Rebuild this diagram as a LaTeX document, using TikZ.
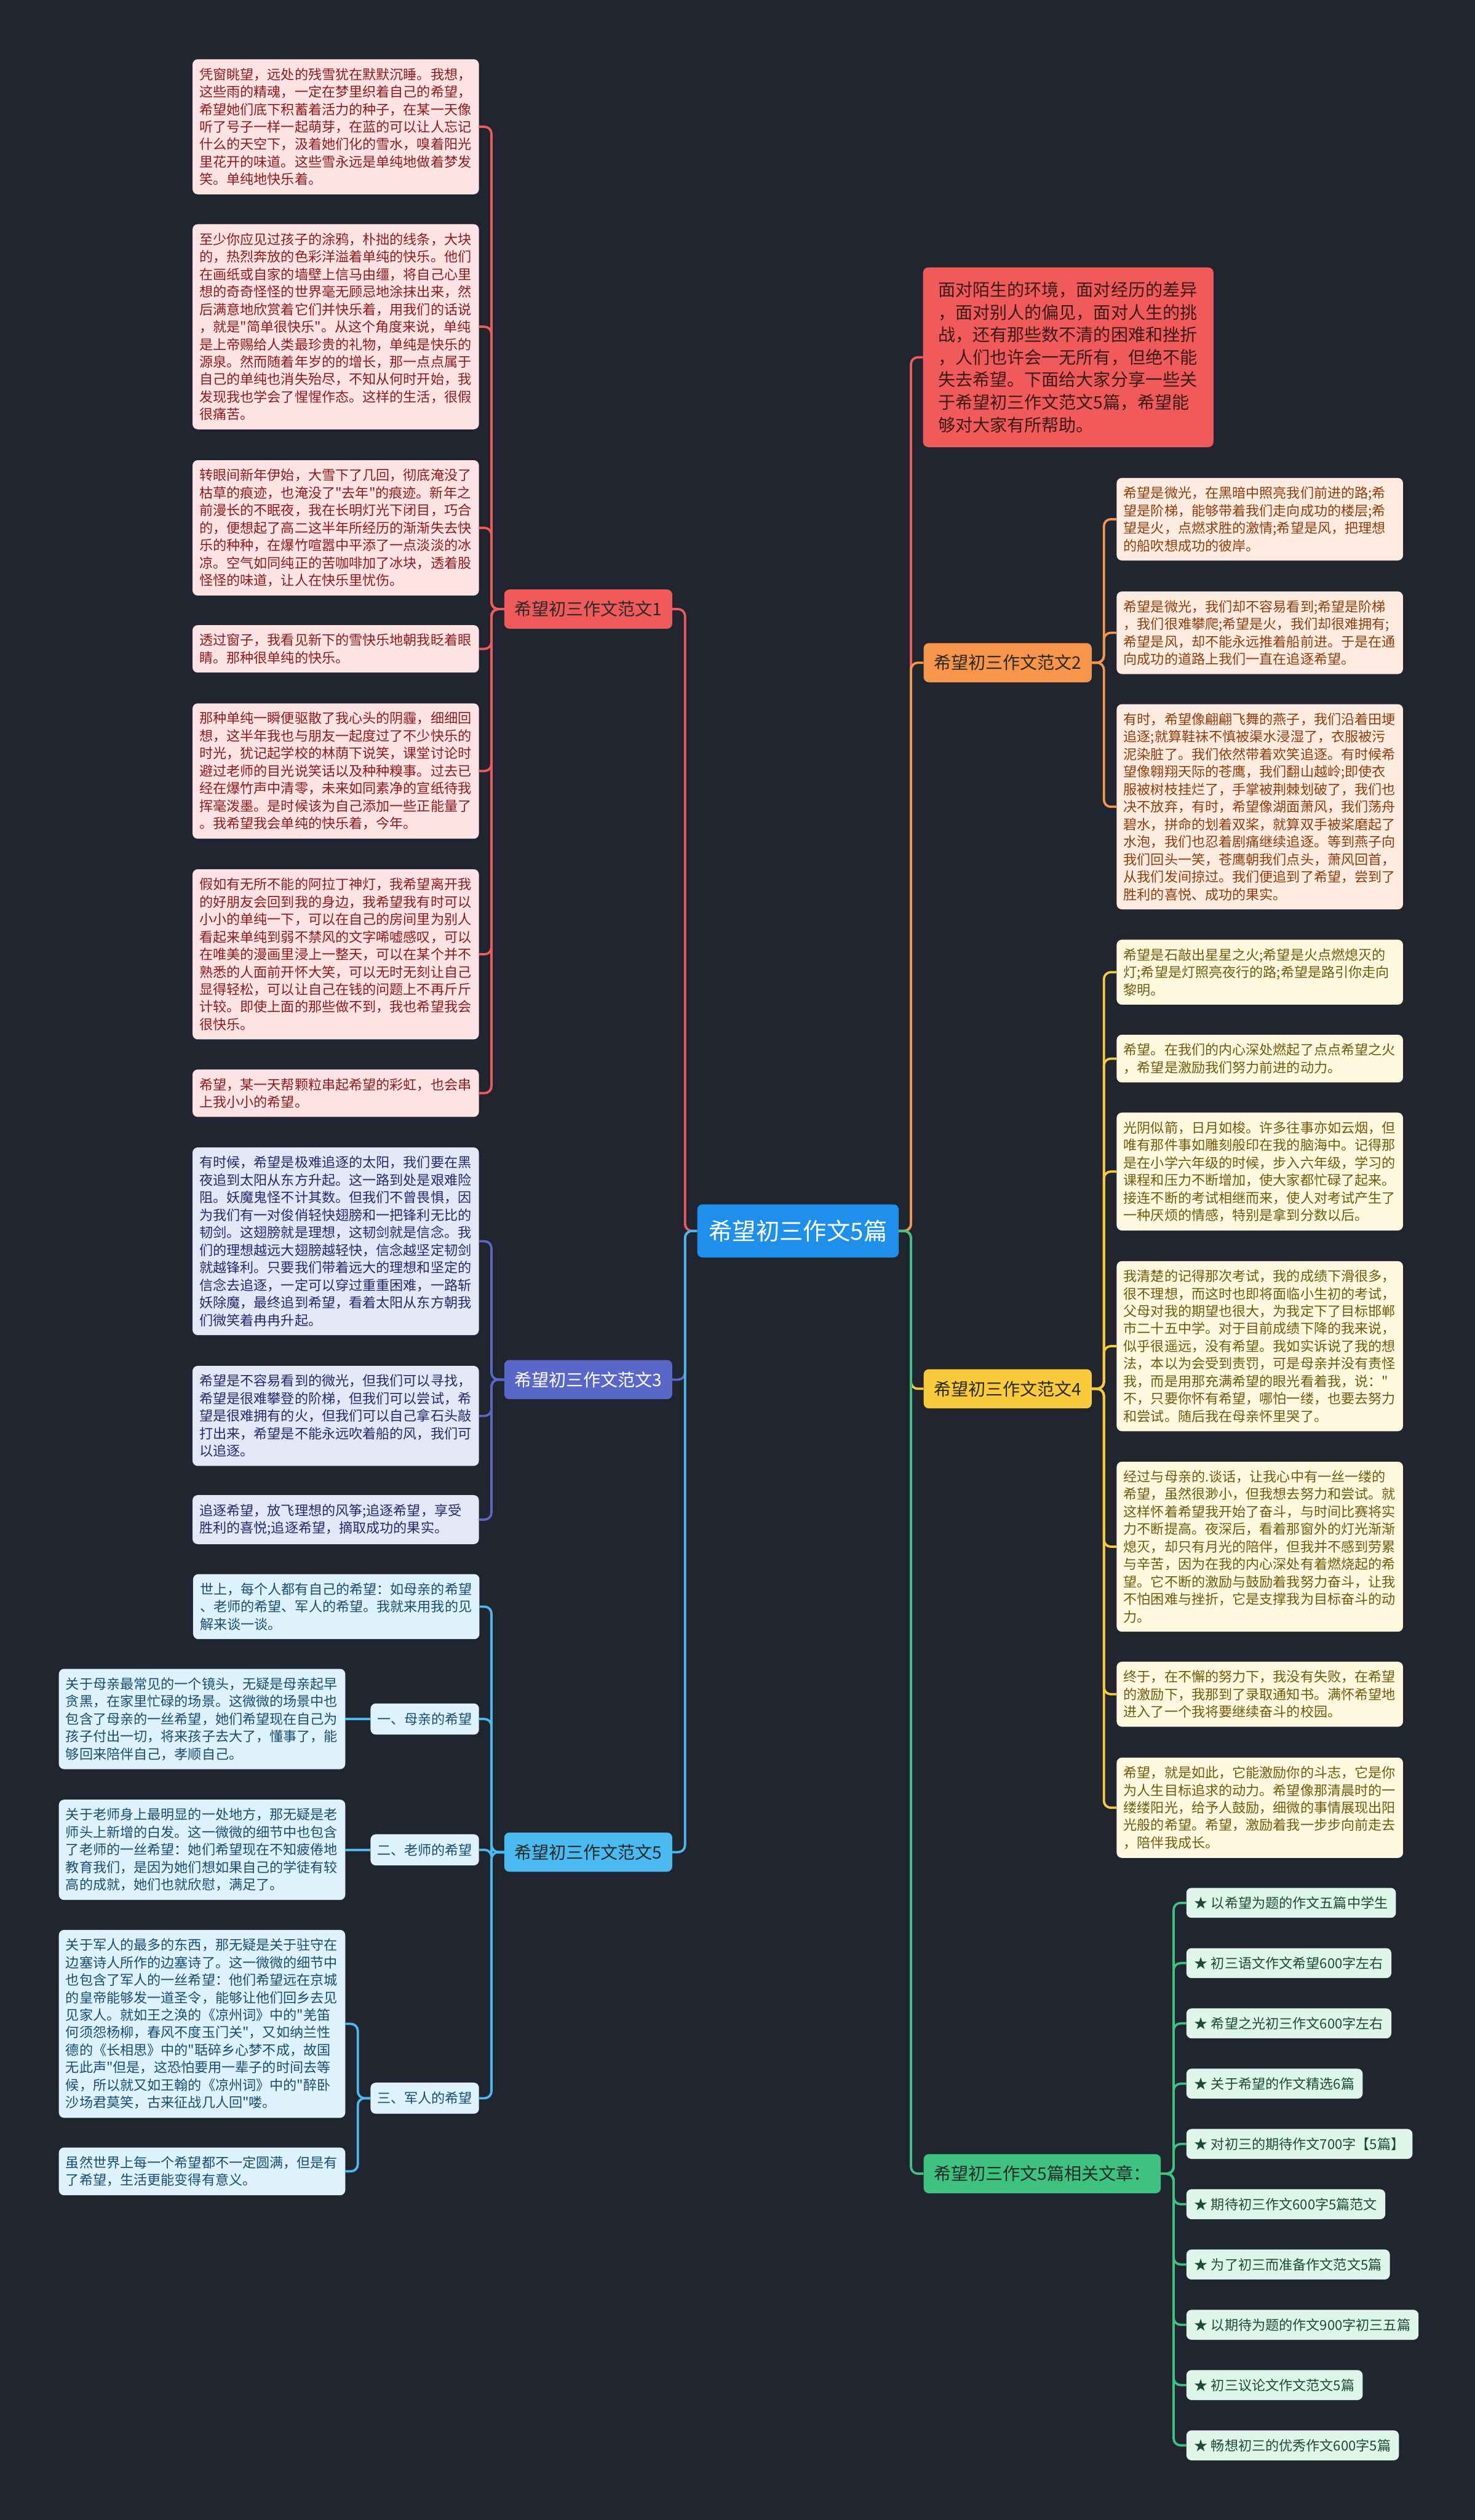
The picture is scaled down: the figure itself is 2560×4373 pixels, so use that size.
\documentclass[tikz,border=0pt]{standalone}
\usepackage{fontspec}
\newfontfamily\cjk{Noto Sans CJK SC}
\definecolor{bgc}{HTML}{21252F}
\definecolor{rootc}{HTML}{1E8FEA}
\definecolor{redc}{HTML}{F05A5B}
\definecolor{redfill}{HTML}{FDE3E4}
\definecolor{redtext}{HTML}{8C1B1B}
\definecolor{introtext}{HTML}{3B1A1A}
\definecolor{orc}{HTML}{F7954A}
\definecolor{orfill}{HTML}{FEEBDF}
\definecolor{ortext}{HTML}{8B3E0D}
\definecolor{ylc}{HTML}{F9CB3A}
\definecolor{ylfill}{HTML}{FEF8DE}
\definecolor{yltext}{HTML}{6E5B0C}
\definecolor{inc}{HTML}{5867C8}
\definecolor{infill}{HTML}{E4E7F6}
\definecolor{intext}{HTML}{222B6B}
\definecolor{blc}{HTML}{4BBAF0}
\definecolor{blfill}{HTML}{DDF2FC}
\definecolor{bltext}{HTML}{174D70}
\definecolor{grc}{HTML}{3DC27F}
\definecolor{grfill}{HTML}{DEF5E9}
\definecolor{grtext}{HTML}{1B4B30}
\definecolor{darktext}{HTML}{2A2A2A}
\begin{document}
\begin{tikzpicture}[x=1pt, y=-1pt,
  every node/.style={font=\cjk\fontsize{23.6}{30.4}\selectfont, anchor=west, rounded corners=9pt},
  leaf/.style={align=left, text width=473pt, inner xsep=12pt, inner ysep=15pt},
  redleaf/.style={leaf, fill=redfill, text=redtext},
  orleaf/.style={leaf, fill=orfill, text=ortext},
  ylleaf/.style={leaf, fill=ylfill, text=yltext},
  inleaf/.style={leaf, fill=infill, text=intext},
  blleaf/.style={leaf, fill=blfill, text=bltext},
  sublabel/.style={fill=blfill, text=bltext, minimum height=54pt, inner xsep=11.5pt, inner ysep=0pt},
  item/.style={fill=grfill, text=grtext, minimum height=52pt, inner xsep=14pt, inner ysep=0pt},
  branch/.style={font=\cjk\fontsize{30}{36}\selectfont, minimum height=68pt, inner xsep=17.5pt, inner ysep=0pt, text=darktext},
  root/.style={font=\cjk\fontsize{41}{48}\selectfont, fill=rootc, text=white, minimum height=92pt, inner xsep=20pt, inner ysep=0pt},
  intro/.style={font=\cjk\fontsize{30}{39}\selectfont, align=left, text width=452pt, inner xsep=26pt, inner ysep=25pt, fill=redc, text=introtext},
  wire/.style={line width=4pt},
  elbow/.style={rounded corners=12pt, to path={-- ++(#1,0) |- (\tikztotarget) \tikztonodes}},
]
\fill[bgc] (0, 0) rectangle (2560, 4373);

\node(C) at (1210, 2136) [root] {希望初三作文5篇};

\node(B1) at (875, 1057) [branch, fill=redc] {希望初三作文范文1};
\node(B3) at (875, 2394) [branch, fill=inc, text=white] {希望初三作文范文3};
\node(B5) at (875, 3214) [branch, fill=blc] {希望初三作文范文5};
\node(I) at (1602, 620) [intro] {面对陌生的环境，面对经历的差异\\，面对别人的偏见，面对人生的挑\\战，还有那些数不清的困难和挫折\\，人们也许会一无所有，但绝不能\\失去希望。下面给大家分享一些关\\于希望初三作文范文5篇，希望能\\够对大家有所帮助。};
\node(B2) at (1603, 1150) [branch, fill=orc] {希望初三作文范文2};
\node(B4) at (1603, 2410) [branch, fill=ylc] {希望初三作文范文4};
\node(R) at (1603, 3772) [branch, fill=grc] {希望初三作文5篇相关文章：};

\node(L1) at (334, 220) [redleaf] {凭窗眺望，远处的残雪犹在默默沉睡。我想，\\这些雨的精魂，一定在梦里织着自己的希望，\\希望她们底下积蓄着活力的种子，在某一天像\\听了号子一样一起萌芽，在蓝的可以让人忘记\\什么的天空下，汲着她们化的雪水，嗅着阳光\\里花开的味道。这些雪永远是单纯地做着梦发\\笑。单纯地快乐着。};
\node(L2) at (334, 567) [redleaf] {至少你应见过孩子的涂鸦，朴拙的线条，大块\\的，热烈奔放的色彩洋溢着单纯的快乐。他们\\在画纸或自家的墙壁上信马由缰，将自己心里\\想的奇奇怪怪的世界毫无顾忌地涂抹出来，然\\后满意地欣赏着它们并快乐着，用我们的话说\\，就是"简单很快乐"。从这个角度来说，单纯\\是上帝赐给人类最珍贵的礼物，单纯是快乐的\\源泉。然而随着年岁的的增长，那一点点属于\\自己的单纯也消失殆尽，不知从何时开始，我\\发现我也学会了惺惺作态。这样的生活，很假\\很痛苦。};
\node(L3) at (334, 916) [redleaf] {转眼间新年伊始，大雪下了几回，彻底淹没了\\枯草的痕迹，也淹没了"去年"的痕迹。新年之\\前漫长的不眠夜，我在长明灯光下闭目，巧合\\的，便想起了高二这半年所经历的渐渐失去快\\乐的种种，在爆竹喧嚣中平添了一点淡淡的冰\\凉。空气如同纯正的苦咖啡加了冰块，透着股\\怪怪的味道，让人在快乐里忧伤。};
\node(L4) at (334, 1126) [redleaf] {透过窗子，我看见新下的雪快乐地朝我眨着眼\\睛。那种很单纯的快乐。};
\node(L5) at (334, 1338) [redleaf] {那种单纯一瞬便驱散了我心头的阴霾，细细回\\想，这半年我也与朋友一起度过了不少快乐的\\时光，犹记起学校的林荫下说笑，课堂讨论时\\避过老师的目光说笑话以及种种糗事。过去已\\经在爆竹声中清零，未来如同素净的宣纸待我\\挥毫泼墨。是时候该为自己添加一些正能量了\\。我希望我会单纯的快乐着，今年。};
\node(L6) at (334, 1656) [redleaf] {假如有无所不能的阿拉丁神灯，我希望离开我\\的好朋友会回到我的身边，我希望我有时可以\\小小的单纯一下，可以在自己的房间里为别人\\看起来单纯到弱不禁风的文字唏嘘感叹，可以\\在唯美的漫画里浸上一整天，可以在某个并不\\熟悉的人面前开怀大笑，可以无时无刻让自己\\显得轻松，可以让自己在钱的问题上不再斤斤\\计较。即使上面的那些做不到，我也希望我会\\很快乐。};
\node(L7) at (334, 1897) [redleaf] {希望，某一天帮颗粒串起希望的彩虹，也会串\\上我小小的希望。};

\node(P1) at (334, 2154) [inleaf] {有时候，希望是极难追逐的太阳，我们要在黑\\夜追到太阳从东方升起。这一路到处是艰难险\\阻。妖魔鬼怪不计其数。但我们不曾畏惧，因\\为我们有一对俊俏轻快翅膀和一把锋利无比的\\韧剑。这翅膀就是理想，这韧剑就是信念。我\\们的理想越远大翅膀越轻快，信念越坚定韧剑\\就越锋利。只要我们带着远大的理想和坚定的\\信念去追逐，一定可以穿过重重困难，一路斩\\妖除魔，最终追到希望，看着太阳从东方朝我\\们微笑着冉冉升起。};
\node(P2) at (334, 2457) [inleaf] {希望是不容易看到的微光，但我们可以寻找，\\希望是很难攀登的阶梯，但我们可以尝试，希\\望是很难拥有的火，但我们可以自己拿石头敲\\打出来，希望是不能永远吹着船的风，我们可\\以追逐。};
\node(P3) at (334, 2637) [inleaf] {追逐希望，放飞理想的风筝;追逐希望，享受\\胜利的喜悦;追逐希望，摘取成功的果实。};

\node(S0) at (335, 2788) [blleaf] {世上，每个人都有自己的希望：如母亲的希望\\、老师的希望、军人的希望。我就来用我的见\\解来谈一谈。};
\node(M) at (643, 2983) [sublabel] {一、母亲的希望};
\node(T) at (643, 3210) [sublabel] {二、老师的希望};
\node(K) at (643, 3641) [sublabel] {三、军人的希望};
\node(ML) at (102, 2983) [blleaf] {关于母亲最常见的一个镜头，无疑是母亲起早\\贪黑，在家里忙碌的场景。这微微的场景中也\\包含了母亲的一丝希望，她们希望现在自己为\\孩子付出一切，将来孩子去大了，懂事了，能\\够回来陪伴自己，孝顺自己。};
\node(TL) at (102, 3210) [blleaf] {关于老师身上最明显的一处地方，那无疑是老\\师头上新增的白发。这一微微的细节中也包含\\了老师的一丝希望：她们希望现在不知疲倦地\\教育我们，是因为她们想如果自己的学徒有较\\高的成就，她们也就欣慰，满足了。};
\node(KL) at (102, 3512) [blleaf] {关于军人的最多的东西，那无疑是关于驻守在\\边塞诗人所作的边塞诗了。这一微微的细节中\\也包含了军人的一丝希望：他们希望远在京城\\的皇帝能够发一道圣令，能够让他们回乡去见\\见家人。就如王之涣的《凉州词》中的"羌笛\\何须怨杨柳，春风不度玉门关"，又如纳兰性\\德的《长相思》中的"聒碎乡心梦不成，故国\\无此声"但是，这恐怕要用一辈子的时间去等\\候，所以就又如王翰的《凉州词》中的"醉卧\\沙场君莫笑，古来征战几人回"喽。};
\node(KE) at (102, 3768) [blleaf] {虽然世界上每一个希望都不一定圆满，但是有\\了希望，生活更能变得有意义。};

\node(O1) at (1938, 901) [orleaf] {希望是微光，在黑暗中照亮我们前进的路;希\\望是阶梯，能够带着我们走向成功的楼层;希\\望是火，点燃求胜的激情;希望是风，把理想\\的船吹想成功的彼岸。};
\node(O2) at (1938, 1098) [orleaf] {希望是微光，我们却不容易看到;希望是阶梯\\，我们很难攀爬;希望是火，我们却很难拥有;\\希望是风，却不能永远推着船前进。于是在通\\向成功的道路上我们一直在追逐希望。};
\node(O3) at (1938, 1400) [orleaf] {有时，希望像翩翩飞舞的燕子，我们沿着田埂\\追逐;就算鞋袜不慎被渠水浸湿了，衣服被污\\泥染脏了。我们依然带着欢笑追逐。有时候希\\望像翱翔天际的苍鹰，我们翻山越岭;即使衣\\服被树枝挂烂了，手掌被荆棘划破了，我们也\\决不放弃，有时，希望像湖面萧风，我们荡舟\\碧水，拼命的划着双桨，就算双手被桨磨起了\\水泡，我们也忍着剧痛继续追逐。等到燕子向\\我们回头一笑，苍鹰朝我们点头，萧风回首，\\从我们发间掠过。我们便追到了希望，尝到了\\胜利的喜悦、成功的果实。};

\node(Y1) at (1938, 1687) [ylleaf] {希望是石敲出星星之火;希望是火点燃熄灭的\\灯;希望是灯照亮夜行的路;希望是路引你走向\\黎明。};
\node(Y2) at (1938, 1837) [ylleaf] {希望。在我们的内心深处燃起了点点希望之火\\，希望是激励我们努力前进的动力。};
\node(Y3) at (1938, 2033) [ylleaf] {光阴似箭，日月如梭。许多往事亦如云烟，但\\唯有那件事如雕刻般印在我的脑海中。记得那\\是在小学六年级的时候，步入六年级，学习的\\课程和压力不断增加，使大家都忙碌了起来。\\接连不断的考试相继而来，使人对考试产生了\\一种厌烦的情感，特别是拿到分数以后。};
\node(Y4) at (1938, 2336) [ylleaf] {我清楚的记得那次考试，我的成绩下滑很多，\\很不理想，而这时也即将面临小生初的考试，\\父母对我的期望也很大，为我定下了目标邯郸\\市二十五中学。对于目前成绩下降的我来说，\\似乎很遥远，没有希望。我如实诉说了我的想\\法，本以为会受到责罚，可是母亲并没有责怪\\我，而是用那充满希望的眼光看着我，说："\\不，只要你怀有希望，哪怕一缕，也要去努力\\和尝试。随后我在母亲怀里哭了。};
\node(Y5) at (1938, 2684) [ylleaf] {经过与母亲的.谈话，让我心中有一丝一缕的\\希望，虽然很渺小，但我想去努力和尝试。就\\这样怀着希望我开始了奋斗，与时间比赛将实\\力不断提高。夜深后，看着那窗外的灯光渐渐\\熄灭，却只有月光的陪伴，但我并不感到劳累\\与辛苦，因为在我的内心深处有着燃烧起的希\\望。它不断的激励与鼓励着我努力奋斗，让我\\不怕困难与挫折，它是支撑我为目标奋斗的动\\力。};
\node(Y6) at (1938, 2940) [ylleaf] {终于，在不懈的努力下，我没有失败，在希望\\的激励下，我那到了录取通知书。满怀希望地\\进入了一个我将要继续奋斗的校园。};
\node(Y7) at (1938, 3137) [ylleaf] {希望，就是如此，它能激励你的斗志，它是你\\为人生目标追求的动力。希望像那清晨时的一\\缕缕阳光，给予人鼓励，细微的事情展现出阳\\光般的希望。希望，激励着我一步步向前走去\\，陪伴我成长。};

\node(R1) at (2059, 3302) [item] {★ 以希望为题的作文五篇中学生};
\node(R2) at (2059, 3406.6) [item] {★ 初三语文作文希望600字左右};
\node(R3) at (2059, 3511.2) [item] {★ 希望之光初三作文600字左右};
\node(R4) at (2059, 3615.8) [item] {★ 关于希望的作文精选6篇};
\node(R5) at (2059, 3720.4) [item] {★ 对初三的期待作文700字【5篇】};
\node(R6) at (2059, 3825) [item] {★ 期待初三作文600字5篇范文};
\node(R7) at (2059, 3929.6) [item] {★ 为了初三而准备作文范文5篇};
\node(R8) at (2059, 4034.2) [item] {★ 以期待为题的作文900字初三五篇};
\node(R9) at (2059, 4138.8) [item] {★ 初三议论文作文范文5篇};
\node(R10) at (2059, 4243.4) [item] {★ 畅想初三的优秀作文600字5篇};

\path[wire, color=redc]
(C.west) edge[elbow=-21] (B1.east)
(B1.west) edge[elbow=-22] (L1.east) edge[elbow=-22] (L2.east) edge[elbow=-22] (L3.east) edge[elbow=-22] (L4.east)
  edge[elbow=-22] (L5.east) edge[elbow=-22] (L6.east) edge[elbow=-22] (L7.east)
(C.east) edge[elbow=21] (I.west);
\path[wire, color=inc]
(C.west) edge[elbow=-21] (B3.east)
(B3.west) edge[elbow=-22] (P1.east) edge[elbow=-22] (P2.east) edge[elbow=-22] (P3.east);
\path[wire, color=blc]
(C.west) edge[elbow=-21] (B5.east)
(B5.west) edge[elbow=-22] (S0.east) edge[elbow=-22] (M.east) edge[elbow=-22] (T.east) edge[elbow=-22] (K.east)
(M.west) edge (ML.east)
(T.west) edge (TL.east)
(K.west) edge[elbow=-22] (KL.east) edge[elbow=-22] (KE.east);
\path[wire, color=orc]
(C.east) edge[elbow=21] (B2.west)
(B2.east) edge[elbow=21] (O1.west) edge[elbow=21] (O2.west) edge[elbow=21] (O3.west);
\path[wire, color=ylc]
(C.east) edge[elbow=21] (B4.west)
(B4.east) edge[elbow=21] (Y1.west) edge[elbow=21] (Y2.west) edge[elbow=21] (Y3.west) edge[elbow=21] (Y4.west)
  edge[elbow=21] (Y5.west) edge[elbow=21] (Y6.west) edge[elbow=21] (Y7.west);
\path[wire, color=grc]
(C.east) edge[elbow=21] (R.west)
(R.east) edge[elbow=22] (R1.west) edge[elbow=22] (R2.west) edge[elbow=22] (R3.west) edge[elbow=22] (R4.west) edge[elbow=22] (R5.west)
  edge[elbow=22] (R6.west) edge[elbow=22] (R7.west) edge[elbow=22] (R8.west) edge[elbow=22] (R9.west) edge[elbow=22] (R10.west);
\end{tikzpicture}
\end{document}
